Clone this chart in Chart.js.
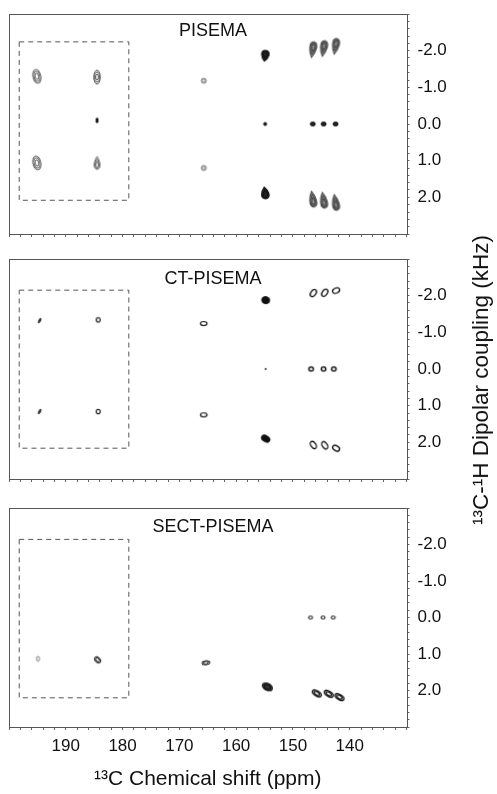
<!DOCTYPE html>
<html>
<head>
<meta charset="utf-8">
<script src="https://cdn.jsdelivr.net/npm/chart.js@4.4.1/dist/chart.umd.min.js"></script>
<style>
    body { margin: 0; background: #fff; }
    #page { position: relative; width: 497px; height: 794px; overflow: hidden; }
    #page canvas { position: absolute; left: 0; }
    #ytitle {
        position: absolute; left: 481px; top: 380px;
        transform: translate(-50%, -50%) rotate(-90deg);
        white-space: nowrap; color: #111;
        font: 22.5px "Liberation Sans", Arial, sans-serif;
    }
</style>
</head>
<body>
<div id="page">
    <canvas id="pisema"></canvas>
    <canvas id="ctpisema"></canvas>
    <canvas id="sectpisema"></canvas>
    <div id="ytitle">¹³C-¹H Dipolar coupling (kHz)</div>
</div>
<script>
'use strict';

// peak positions: 13C shift (ppm) and 13C-1H dipolar coupling (kHz)
var pisemaShift = [195.1, 195.1, 184.5, 184.5, 184.5, 165.7, 165.7, 154.9, 154.9, 154.9,
    146.5, 146.5, 146.5, 144.6, 144.6, 144.6, 142.5, 142.5, 142.5];
var pisemaCoupling = [-1.30, 1.06, -1.28, -0.10, 1.06, -1.18, 1.20, -1.86, 0.0, 1.88,
    -2.03, 0.0, 2.05, -2.06, 0.0, 2.08, -2.12, 0.0, 2.14];

var ctShift = [194.6, 194.6, 184.3, 184.3, 165.7, 165.7, 154.8, 154.8, 154.8,
    146.4, 146.8, 146.4, 144.4, 144.6, 144.4, 142.4, 142.8, 142.4];
var ctCoupling = [-1.32, 1.16, -1.34, 1.16, -1.24, 1.25, -1.88, 0.0, 1.90,
    -2.07, 0.0, 2.07, -2.08, 0.0, 2.08, -2.14, 0.0, 2.16];

var sectShift = [194.9, 184.4, 165.3, 154.5, 146.9, 145.8, 144.7, 143.7, 142.9, 141.8];
var sectCoupling = [1.13, 1.16, 1.24, 1.90, 0.0, 2.08, 0.0, 2.09, 0.0, 2.18];

// dashed region around the carbonyl peaks
var boxShift = [198.2, 178.9, 178.9, 198.2, 198.2];
var boxTop = [-2.24, -2.15, -2.14];
var boxBottom = [2.08, 2.16, 2.20];

// axis ticks
var shiftMin = 130, shiftMax = 200, shiftStep = 2;
var shiftLabels = [190, 180, 170, 160, 150, 140];
var couplingMin = -3, couplingMax = 3, couplingStep = 0.2;
var couplingLabels = [-2, -1, 0, 1, 2];

// contour glyph used for each peak
var pisemaGlyph = ['wide', 'wide', 'narrow', 'dash', 'narrowBot', 'ring', 'ring', 'blobTop', 'dot', 'blobBot',
    'dropTop', 'mid', 'dropBot', 'dropTop', 'mid', 'dropBot', 'dropTop', 'mid', 'dropBot'];
var ctGlyph = ['tick', 'tick', 'loop', 'loop', 'oval', 'oval', 'blob', 'speck', 'blobBot2',
    'lean', 'loopDot', 'leanBot', 'lean', 'loopDot', 'leanBot', 'flat', 'loopDot', 'flatBot'];
var sectGlyph = ['faint', 'slant', 'flat2', 'slab', 'small', 'long', 'small', 'long', 'small', 'long'];

var glyphSpecs = {
    wide: {w: 8, h: 14, rings: 3, color: '#666', tilt: -12},
    narrow: {w: 6.5, h: 14, rings: 3, color: '#555'},
    narrowBot: {shape: 'drop', dir: -1, w: 7.5, h: 13, rings: 3, color: '#555'},
    dash: {w: 2, h: 5, rings: 1, color: '#111', fill: '#111'},
    ring: {w: 5, h: 5, rings: 2, color: '#777'},
    blobTop: {shape: 'drop', dir: 1, w: 10, h: 11, rings: 2, color: '#111', fill: '#222', tilt: 8},
    blobBot: {shape: 'drop', dir: -1, w: 10, h: 12, rings: 2, color: '#111', fill: '#222', tilt: -8},
    dot: {w: 3, h: 3, rings: 1, color: '#111', fill: '#111'},
    dropTop: {shape: 'drop', dir: 1, w: 9, h: 16, rings: 3, color: '#444', fill: '#999', tilt: 10},
    dropBot: {shape: 'drop', dir: -1, w: 9, h: 16, rings: 3, color: '#444', fill: '#999', tilt: -10},
    mid: {w: 5, h: 4, rings: 2, color: '#111', fill: '#333'},
    tick: {w: 1.6, h: 5, rings: 1, color: '#333', fill: '#333', tilt: 30},
    loop: {w: 4, h: 4.5, rings: 1, color: '#111', lw: 1.2},
    oval: {w: 6.5, h: 4, rings: 1, color: '#111', lw: 1.2},
    blob: {w: 8, h: 7, rings: 2, color: '#111', fill: '#111', tilt: 15},
    blobBot2: {w: 9, h: 6, rings: 2, color: '#111', fill: '#111', tilt: 30},
    speck: {w: 1, h: 2, rings: 1, color: '#555', fill: '#555'},
    lean: {w: 5, h: 8, rings: 1, color: '#111', lw: 1.3, tilt: 35},
    leanBot: {w: 5, h: 8, rings: 1, color: '#111', lw: 1.3, tilt: -35},
    loopDot: {w: 4.5, h: 4, rings: 1, color: '#111', lw: 1.4},
    flat: {w: 7.5, h: 5, rings: 1, color: '#111', lw: 1.3, tilt: -25},
    flatBot: {w: 7.5, h: 5, rings: 1, color: '#111', lw: 1.3, tilt: 30},
    faint: {w: 3, h: 5, rings: 1, color: '#777'},
    slant: {w: 5, h: 7, rings: 2, color: '#222', tilt: -45},
    flat2: {w: 8, h: 4, rings: 2, color: '#222', tilt: -8},
    slab: {w: 11, h: 7, rings: 2, color: '#111', fill: '#333', tilt: 30},
    long: {w: 10, h: 5, rings: 2, color: '#111', lw: 1.3, tilt: 32},
    small: {w: 4, h: 3, rings: 1, color: '#333', lw: 1.2}
};

var FONT = '"Liberation Sans", Arial, sans-serif';
Chart.defaults.font.family = FONT;
Chart.defaults.color = '#111';

function dropPath(g, rx, ry, dir) {
    g.moveTo(0, ry * dir);
    g.bezierCurveTo(-rx * 0.7, ry * 0.4 * dir, -rx * 1.3, -ry * 0.9 * dir, 0, -ry * dir);
    g.bezierCurveTo(rx * 1.3, -ry * 0.9 * dir, rx * 0.7, ry * 0.4 * dir, 0, ry * dir);
    g.closePath();
}

function makeGlyph(spec) {
    var size = Math.ceil(Math.max(spec.w, spec.h)) + 6;
    var c = document.createElement('canvas');
    c.width = size;
    c.height = size;
    var g = c.getContext('2d');
    g.translate(size / 2, size / 2);
    g.rotate((spec.tilt || 0) * Math.PI / 180);
    for (var i = 0; i < spec.rings; i++) {
        var k = 1 - i / (spec.rings + 0.5);
        g.beginPath();
        if (spec.shape === 'drop') {
            g.save();
            g.translate(0, -spec.h / 2 * (1 - k) * 0.4 * spec.dir);
            dropPath(g, spec.w / 2 * k, spec.h / 2 * k, spec.dir);
            g.restore();
        } else {
            g.ellipse(0, 0, spec.w / 2 * k, spec.h / 2 * k, 0, 0, Math.PI * 2);
        }
        if (spec.fill && i === 0) {
            g.fillStyle = spec.fill;
            g.fill();
        }
        g.strokeStyle = spec.color;
        g.lineWidth = spec.lw || 1;
        g.stroke();
    }
    return c;
}

var glyphs = {};
Object.keys(glyphSpecs).forEach(function (key) {
    glyphs[key] = makeGlyph(glyphSpecs[key]);
});

// frame around the plot area and the experiment name inside it
var framePlugin = {
    id: 'frame',
    afterDraw: function (chart, args, opts) {
        var a = chart.chartArea;
        var ctx = chart.ctx;
        ctx.save();
        ctx.strokeStyle = '#555';
        ctx.lineWidth = 1;
        ctx.strokeRect(Math.round(a.left) + 0.5, Math.round(a.top) + 0.5,
            Math.round(a.right - a.left), Math.round(a.bottom - a.top));
        ctx.fillStyle = '#111';
        ctx.font = '18px ' + FONT;
        ctx.textAlign = 'center';
        ctx.textBaseline = 'middle';
        ctx.fillText(opts.text, a.left + 204, a.top + opts.titleOffset);
        ctx.restore();
    }
};

function isLabel(v, list) {
    return list.some(function (l) { return Math.abs(v - l) < 1e-6; });
}

function buildPanel(id, name, shift, coupling, glyphList, boxIndex, layout) {
    var canvas = document.getElementById(id);
    canvas.width = 470;
    canvas.height = layout.height;
    canvas.style.top = layout.top + 'px';

    var peaks = shift.map(function (x, i) { return {x: x, y: coupling[i]}; });
    var boxY = [boxTop[boxIndex], boxTop[boxIndex], boxBottom[boxIndex], boxBottom[boxIndex], boxTop[boxIndex]];
    var box = boxShift.map(function (x, i) { return {x: x, y: boxY[i]}; });

    return new Chart(canvas, {
        type: 'scatter',
        data: {
            datasets: [{
                data: box,
                showLine: true,
                borderColor: '#555',
                borderWidth: 1,
                borderDash: [5, 4],
                pointRadius: 0
            }, {
                data: peaks,
                pointRadius: 3,
                borderWidth: 0,
                pointStyle: function (ctx) { return glyphs[glyphList[ctx.dataIndex]]; }
            }]
        },
        options: {
            responsive: false,
            animation: false,
            events: [],
            layout: {padding: {left: 9, top: layout.padTop, right: 0, bottom: 0}},
            plugins: {
                legend: {display: false},
                tooltip: {enabled: false},
                frame: {text: name, titleOffset: layout.titleOffset}
            },
            scales: {
                x: {
                    type: 'linear',
                    min: shiftMin,
                    max: shiftMax,
                    reverse: true,
                    afterFit: function (scale) {
                        scale.height = layout.axisHeight;
                        scale.paddingLeft = 0;
                        scale.paddingRight = 0;
                    },
                    border: {display: false},
                    grid: {drawOnChartArea: false, drawTicks: true, tickLength: 3, tickColor: '#666'},
                    ticks: {
                        stepSize: shiftStep,
                        autoSkip: false,
                        maxRotation: 0,
                        padding: 6,
                        font: {size: 17},
                        callback: function (v) {
                            return layout.labels && isLabel(v, shiftLabels) ? String(v) : '';
                        }
                    },
                    title: {
                        display: !!layout.labels,
                        text: '¹³C Chemical shift (ppm)',
                        font: {size: 21},
                        padding: {top: 0, bottom: 2}
                    }
                },
                y: {
                    type: 'linear',
                    position: 'right',
                    min: couplingMin,
                    max: couplingMax,
                    reverse: true,
                    afterFit: function (scale) {
                        scale.width = 63.5;
                        scale.paddingTop = 0;
                        scale.paddingBottom = 0;
                    },
                    border: {display: false},
                    grid: {drawOnChartArea: false, drawTicks: true, tickLength: 3, tickColor: '#666'},
                    ticks: {
                        stepSize: couplingStep,
                        autoSkip: false,
                        padding: 8,
                        font: {size: 17},
                        callback: function (v) {
                            return isLabel(v, couplingLabels) ? Math.round(v).toFixed(1) : '';
                        }
                    }
                }
            }
        },
        plugins: [framePlugin]
    });
}

buildPanel('pisema', 'PISEMA', pisemaShift, pisemaCoupling, pisemaGlyph, 0,
    {top: 0, height: 246, padTop: 14, axisHeight: 12, titleOffset: 17});
buildPanel('ctpisema', 'CT-PISEMA', ctShift, ctCoupling, ctGlyph, 1,
    {top: 248, height: 243, padTop: 11, axisHeight: 12, titleOffset: 20});
buildPanel('sectpisema', 'SECT-PISEMA', sectShift, sectCoupling, sectGlyph, 2,
    {top: 498, height: 296, padTop: 10, axisHeight: 67, titleOffset: 19, labels: true});
</script>
</body>
</html>
